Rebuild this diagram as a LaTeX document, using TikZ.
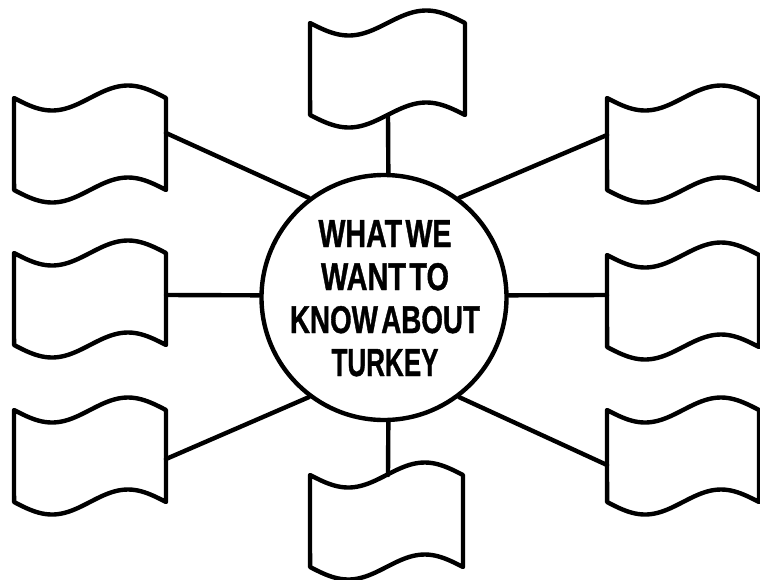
\documentclass[tikz,border=0pt]{standalone}
\usepackage{fontspec}
\setmainfont{Liberation Sans}
\newfontfamily\ttlfont[FakeBold=1.2]{Liberation Sans Bold}
\usepackage{graphicx}
\tikzset{
  ln/.style={line width=4.4pt, line join=round, line cap=round, black},
  hub/.style={ln, circle, draw, minimum size=245pt, inner sep=0pt},
  ttl/.style={anchor=base, inner sep=0pt, font=\ttlfont}
}
\newcommand{\wgap}{\hspace{0.12em}}
% flag with top-left path corner at (#1,#2), width #3, height 92
\newcommand{\myflag}[3]{%
  \draw[ln, fill=white] plot[domain=0:1, samples=50, smooth] ({#1+#3*\x}, {#2+12.5*sin(360*\x)})
    -- plot[domain=1:0, samples=50, smooth] ({#1+#3*\x}, {#2+92+12.5*sin(360*\x)}) -- cycle;}
\begin{document}
\begin{tikzpicture}[x=1pt, y=-1pt]
\useasboundingbox (0,0) rectangle (760,579);
% flags
\myflag{14}{98}{152}
\myflag{14}{253}{152}
\myflag{14}{410}{152}
\myflag{310}{23}{155}
\myflag{310}{475}{153}
\myflag{607}{98}{152}
\myflag{607}{255}{152}
\myflag{607}{410}{152}
% attachment points on flags
\coordinate (ft) at (388,115);
\coordinate (fb) at (388,475);
\coordinate (fl1) at (166,133);
\coordinate (fl2) at (166,295);
\coordinate (fl3) at (166,459);
\coordinate (fr1) at (607,135);
\coordinate (fr2) at (607,295);
\coordinate (fr3) at (607,465);
% hub
\node[hub] (c) at (384,297.5) {};
\draw[ln] (c.88) -- (ft);
\draw[ln] (c.272) -- (fb);
\draw[ln] (c.127) -- (fl1);
\draw[ln] (c.179) -- (fl2);
\draw[ln] (c.233) -- (fl3);
\draw[ln] (c.53) -- (fr1);
\draw[ln] (c.1) -- (fr2);
\draw[ln] (c.307) -- (fr3);
% title
\node[ttl] (t1) at (385,247) {\resizebox{133pt}{27pt}{WHAT\wgap WE}};
\node[ttl] (t2) at (385,290) {\resizebox{128pt}{27pt}{WANT\wgap TO}};
\node[ttl] (t3) at (385,333) {\resizebox{190pt}{27pt}{KNOW\wgap ABOUT}};
\node[ttl] (t4) at (385,376) {\resizebox{107pt}{27pt}{TURKEY}};
\end{tikzpicture}
\end{document}
